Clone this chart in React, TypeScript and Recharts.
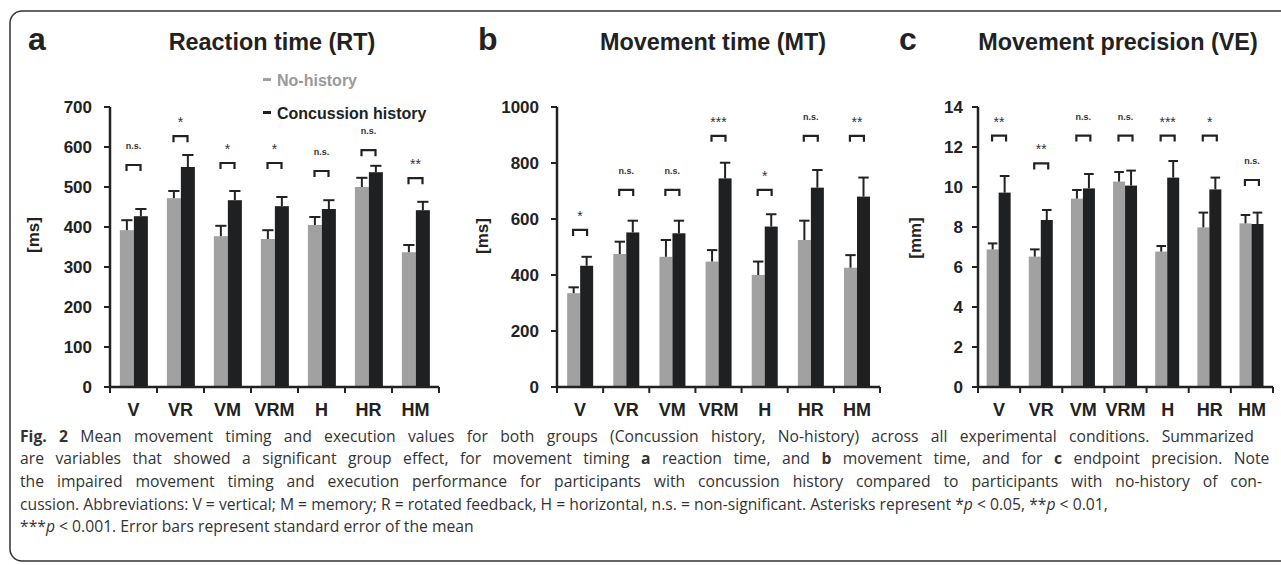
import React, { useLayoutEffect, useRef, useState } from 'react';
import { ComposedChart, Bar, Line, XAxis, YAxis } from 'recharts';

const categories = ['V', 'VR', 'VM', 'VRM', 'H', 'HR', 'HM'];

// Panel a: Reaction time (RT) [ms]
const rtNoHistory = [392, 472, 377, 370, 405, 500, 337];
const rtNoHistoryErr = [25, 18, 26, 22, 20, 23, 18];
const rtConcussion = [427, 550, 467, 452, 445, 537, 442];
const rtConcussionErr = [18, 30, 23, 23, 22, 16, 21];
const rtSig = ['n.s.', '*', '*', '*', 'n.s.', 'n.s.', '**'];
const rtSigLevel = [555, 627, 560, 560, 540, 592, 522];
const rtTicks = [0, 100, 200, 300, 400, 500, 600, 700];

// Panel b: Movement time (MT) [ms]
const mtNoHistory = [335, 475, 465, 448, 400, 525, 426];
const mtNoHistoryErr = [21, 44, 60, 41, 48, 69, 45];
const mtConcussion = [433, 552, 549, 745, 573, 712, 680];
const mtConcussionErr = [32, 42, 45, 56, 44, 63, 68];
const mtSig = ['*', 'n.s.', 'n.s.', '***', '*', 'n.s.', '**'];
const mtSigLevel = [561, 704, 704, 897, 704, 897, 897];
const mtTicks = [0, 200, 400, 600, 800, 1000];

// Panel c: Movement precision (VE) [mm]
const veNoHistory = [6.88, 6.52, 9.42, 10.27, 6.77, 7.98, 8.18];
const veNoHistoryErr = [0.3, 0.36, 0.43, 0.48, 0.28, 0.74, 0.42];
const veConcussion = [9.72, 8.35, 9.93, 10.07, 10.47, 9.88, 8.15];
const veConcussionErr = [0.83, 0.5, 0.72, 0.75, 0.83, 0.59, 0.57];
const veSig = ['**', '**', 'n.s.', 'n.s.', '***', '*', 'n.s.'];
const veSigLevel = [12.57, 11.18, 12.57, 12.57, 12.57, 12.57, 10.35];
const veTicks = [0, 2, 4, 6, 8, 10, 12, 14];

const FONT = '"Liberation Sans", Arial, Helvetica, sans-serif';
const CAPTION_FONT = '"Open Sans", "Noto Sans", sans-serif';
const GRAY = '#a1a1a1';
const BLACK = '#1f2022';
const INK = '#222222';

function buildRows(
  no: number[], noErr: number[], con: number[], conErr: number[], level: number[], sig: string[]
) {
  return categories.map((c, i) => ({
    cat: c, no: no[i], noErr: noErr[i], con: con[i], conErr: conErr[i], level: level[i], sig: sig[i],
  }));
}

const rtRows = buildRows(rtNoHistory, rtNoHistoryErr, rtConcussion, rtConcussionErr, rtSigLevel, rtSig);
const mtRows = buildRows(mtNoHistory, mtNoHistoryErr, mtConcussion, mtConcussionErr, mtSigLevel, mtSig);
const veRows = buildRows(veNoHistory, veNoHistoryErr, veConcussion, veConcussionErr, veSigLevel, veSig);

const barWithError = (valKey: string, errKey: string) => (props: any) => {
  const { x, y, width, height, fill, payload } = props;
  const value = payload[valKey];
  const err = payload[errKey];
  const ppu = value ? height / value : 0;
  const top = y - err * ppu;
  const cx = x + width / 2;
  const cap = width * 0.8;
  return (
    <g>
      <rect x={x} y={y} width={width} height={height} fill={fill} />
      <line x1={cx} x2={cx} y1={y} y2={top} stroke={INK} strokeWidth={2} />
      <line x1={cx - cap / 2} x2={cx + cap / 2} y1={top} y2={top} stroke={INK} strokeWidth={2} />
    </g>
  );
};

const bracketDot = (props: any) => {
  const { cx, cy, payload, index } = props;
  if (cx == null || cy == null) return <g key={`e${index}`} />;
  const w = 14;
  const leg = 6;
  const label = payload.sig;
  const isNs = label === 'n.s.';
  return (
    <g key={`b${index}`}>
      <path
        d={`M${cx - w / 2},${cy + leg} V${cy} H${cx + w / 2} V${cy + leg}`}
        fill="none"
        stroke={INK}
        strokeWidth={2.2}
      />
      <text
        x={cx}
        y={isNs ? cy - 16 : cy - 9}
        textAnchor="middle"
        fontSize={isNs ? 9 : 14}
        fontWeight={isNs ? 'bold' : 'normal'}
        fontFamily={FONT}
        fill="#333"
      >
        {label}
      </text>
    </g>
  );
};

const makeTick = (band: number, count: number) => (props: any) => {
  const { x, y, payload, index } = props;
  return (
    <g>
      <line x1={x - band / 2} x2={x - band / 2} y1={y - 6} y2={y} stroke={INK} strokeWidth={2} />
      {index === count - 1 && (
        <line x1={x + band / 2} x2={x + band / 2} y1={y - 6} y2={y} stroke={INK} strokeWidth={2} />
      )}
      <text x={x} y={y + 23} textAnchor="middle" fontSize={18} fontWeight="bold" fontFamily={FONT} fill={INK}>
        {payload.value}
      </text>
    </g>
  );
};

type PanelProps = {
  left: number;
  width: number;
  yWidth: number;
  rightMargin: number;
  max: number;
  ticks: number[];
  rows: any[];
  tickMargin: number;
  gap: string;
};

function Panel({ left, width, yWidth, rightMargin, max, ticks, rows, tickMargin, gap }: PanelProps) {
  const plotW = width - yWidth - rightMargin;
  const band = plotW / categories.length;
  return (
    <div style={{ position: 'absolute', left, top: 0 }}>
      <ComposedChart
        width={width}
        height={440}
        data={rows}
        margin={{ top: 107, right: rightMargin, bottom: 13, left: 0 }}
        barCategoryGap={gap}
        barGap={0}
      >
        <XAxis
          dataKey="cat"
          height={40}
          axisLine={{ stroke: INK, strokeWidth: 2.5 }}
          tickLine={false}
          tickSize={6}
          tickMargin={0}
          interval={0}
          tick={makeTick(band, categories.length)}
        />
        <YAxis
          width={yWidth}
          domain={[0, max]}
          ticks={ticks}
          interval={0}
          axisLine={{ stroke: INK, strokeWidth: 2.5 }}
          tickLine={{ stroke: INK, strokeWidth: 2 }}
          tickSize={6}
          tickMargin={tickMargin}
          tick={{ fill: INK, fontSize: 17, fontWeight: 'bold', fontFamily: FONT }}
        />
        <Bar dataKey="no" fill={GRAY} shape={barWithError('no', 'noErr')} isAnimationActive={false} />
        <Bar dataKey="con" fill={BLACK} shape={barWithError('con', 'conErr')} isAnimationActive={false} />
        <Line
          dataKey="level"
          stroke="none"
          dot={bracketDot}
          activeDot={false}
          isAnimationActive={false}
          legendType="none"
        />
      </ComposedChart>
    </div>
  );
}

// Justifies a caption line by adjusting word spacing (like the typeset caption)
function JustifiedLine({ x, y, width, spaces, children }: { x: number; y: number; width: number; spaces: number; children: React.ReactNode }) {
  const ref = useRef<SVGTextElement>(null);
  const [ws, setWs] = useState(0);
  useLayoutEffect(() => {
    const el = ref.current;
    if (!el) return;
    const natural = el.getComputedTextLength();
    const extra = (width - natural) / spaces;
    if (Number.isFinite(extra)) setWs(extra);
  }, [width, spaces]);
  return (
    <text ref={ref} x={x} y={y} wordSpacing={ws} style={{ whiteSpace: 'pre' }}>
      {children}
    </text>
  );
}

const titleStyle = { fontFamily: FONT, fontWeight: 'bold' as const, fill: INK };

const capLine1 = ' Mean movement timing and execution values for both groups (Concussion history, No-history) across all experimental conditions. Summarized';
const capLine3 = 'the impaired movement timing and execution performance for participants with concussion history compared to participants with no-history of con-';

export default function App() {
  return (
    <div style={{ position: 'absolute', left: 0, top: 0, width: 1281, height: 565, background: '#fff', overflow: 'hidden' }}>
      <svg width={1281} height={565} style={{ position: 'absolute', left: 0, top: 0 }}>
        <rect x={10} y={11} width={1300} height={550} rx={12} ry={12} fill="none" stroke="#333" strokeWidth={1.5} />
        <text x={28} y={50} fontSize={32} {...titleStyle}>a</text>
        <text x={272} y={50} fontSize={23.4} textAnchor="middle" {...titleStyle}>Reaction time (RT)</text>
        <text x={478} y={50} fontSize={32} {...titleStyle}>b</text>
        <text x={713} y={50} fontSize={23.4} textAnchor="middle" {...titleStyle}>Movement time (MT)</text>
        <text x={899} y={50} fontSize={32} {...titleStyle}>c</text>
        <text x={1118} y={50} fontSize={23.4} textAnchor="middle" {...titleStyle}>Movement precision (VE)</text>

        <rect x={263} y={78} width={8} height={3} fill={GRAY} />
        <text x={277} y={86} fontSize={16} fontFamily={FONT} fontWeight="bold" fill="#999">No-history</text>
        <rect x={263} y={111} width={8} height={3} fill={BLACK} />
        <text x={277} y={119} fontSize={16} fontFamily={FONT} fontWeight="bold" fill={INK}>Concussion history</text>

        <text transform="translate(33,235) rotate(-90)" textAnchor="middle" dominantBaseline="central" fontSize={17} fontWeight="bold" fontFamily={FONT} fill={INK}>[ms]</text>
        <text transform="translate(482,236) rotate(-90)" textAnchor="middle" dominantBaseline="central" fontSize={17} fontWeight="bold" fontFamily={FONT} fill={INK}>[ms]</text>
        <text transform="translate(915,238) rotate(-90)" textAnchor="middle" dominantBaseline="central" fontSize={17} fontWeight="bold" fontFamily={FONT} fill={INK}>[mm]</text>

        <g fontFamily={CAPTION_FONT} fontSize={15.7} fill="#333">
          <JustifiedLine x={20} y={442} width={1242} spaces={19}>
            <tspan fontWeight="bold">Fig. 2</tspan>{capLine1}
          </JustifiedLine>
          <JustifiedLine x={20} y={464} width={1242} spaces={22}>
            {'are variables that showed a significant group effect, for movement timing '}<tspan fontWeight="bold">a</tspan>{' reaction time, and '}<tspan fontWeight="bold">b</tspan>{' movement time, and for '}<tspan fontWeight="bold">c</tspan>{' endpoint precision. Note'}
          </JustifiedLine>
          <JustifiedLine x={20} y={487} width={1242} spaces={18}>
            {capLine3}
          </JustifiedLine>
          <text x={20} y={510}>
            cussion. Abbreviations: V = vertical; M = memory; R = rotated feedback, H = horizontal, n.s. = non-significant. Asterisks represent *<tspan fontStyle="italic">p</tspan> &lt; 0.05, **<tspan fontStyle="italic">p</tspan> &lt; 0.01,
          </text>
          <text x={20} y={532}>
            ***<tspan fontStyle="italic">p</tspan> &lt; 0.001. Error bars represent standard error of the mean
          </text>
        </g>
      </svg>

      <Panel left={40} width={410} yWidth={70} rightMargin={11} max={700} ticks={rtTicks} rows={rtRows} tickMargin={12} gap="21%" />
      <Panel left={477} width={413} yWidth={80} rightMargin={10} max={1000} ticks={mtTicks} rows={mtRows} tickMargin={12} gap="22%" />
      <Panel left={918} width={363} yWidth={60} rightMargin={8} max={14} ticks={veTicks} rows={veRows} tickMargin={9} gap="20.5%" />
    </div>
  );
}
